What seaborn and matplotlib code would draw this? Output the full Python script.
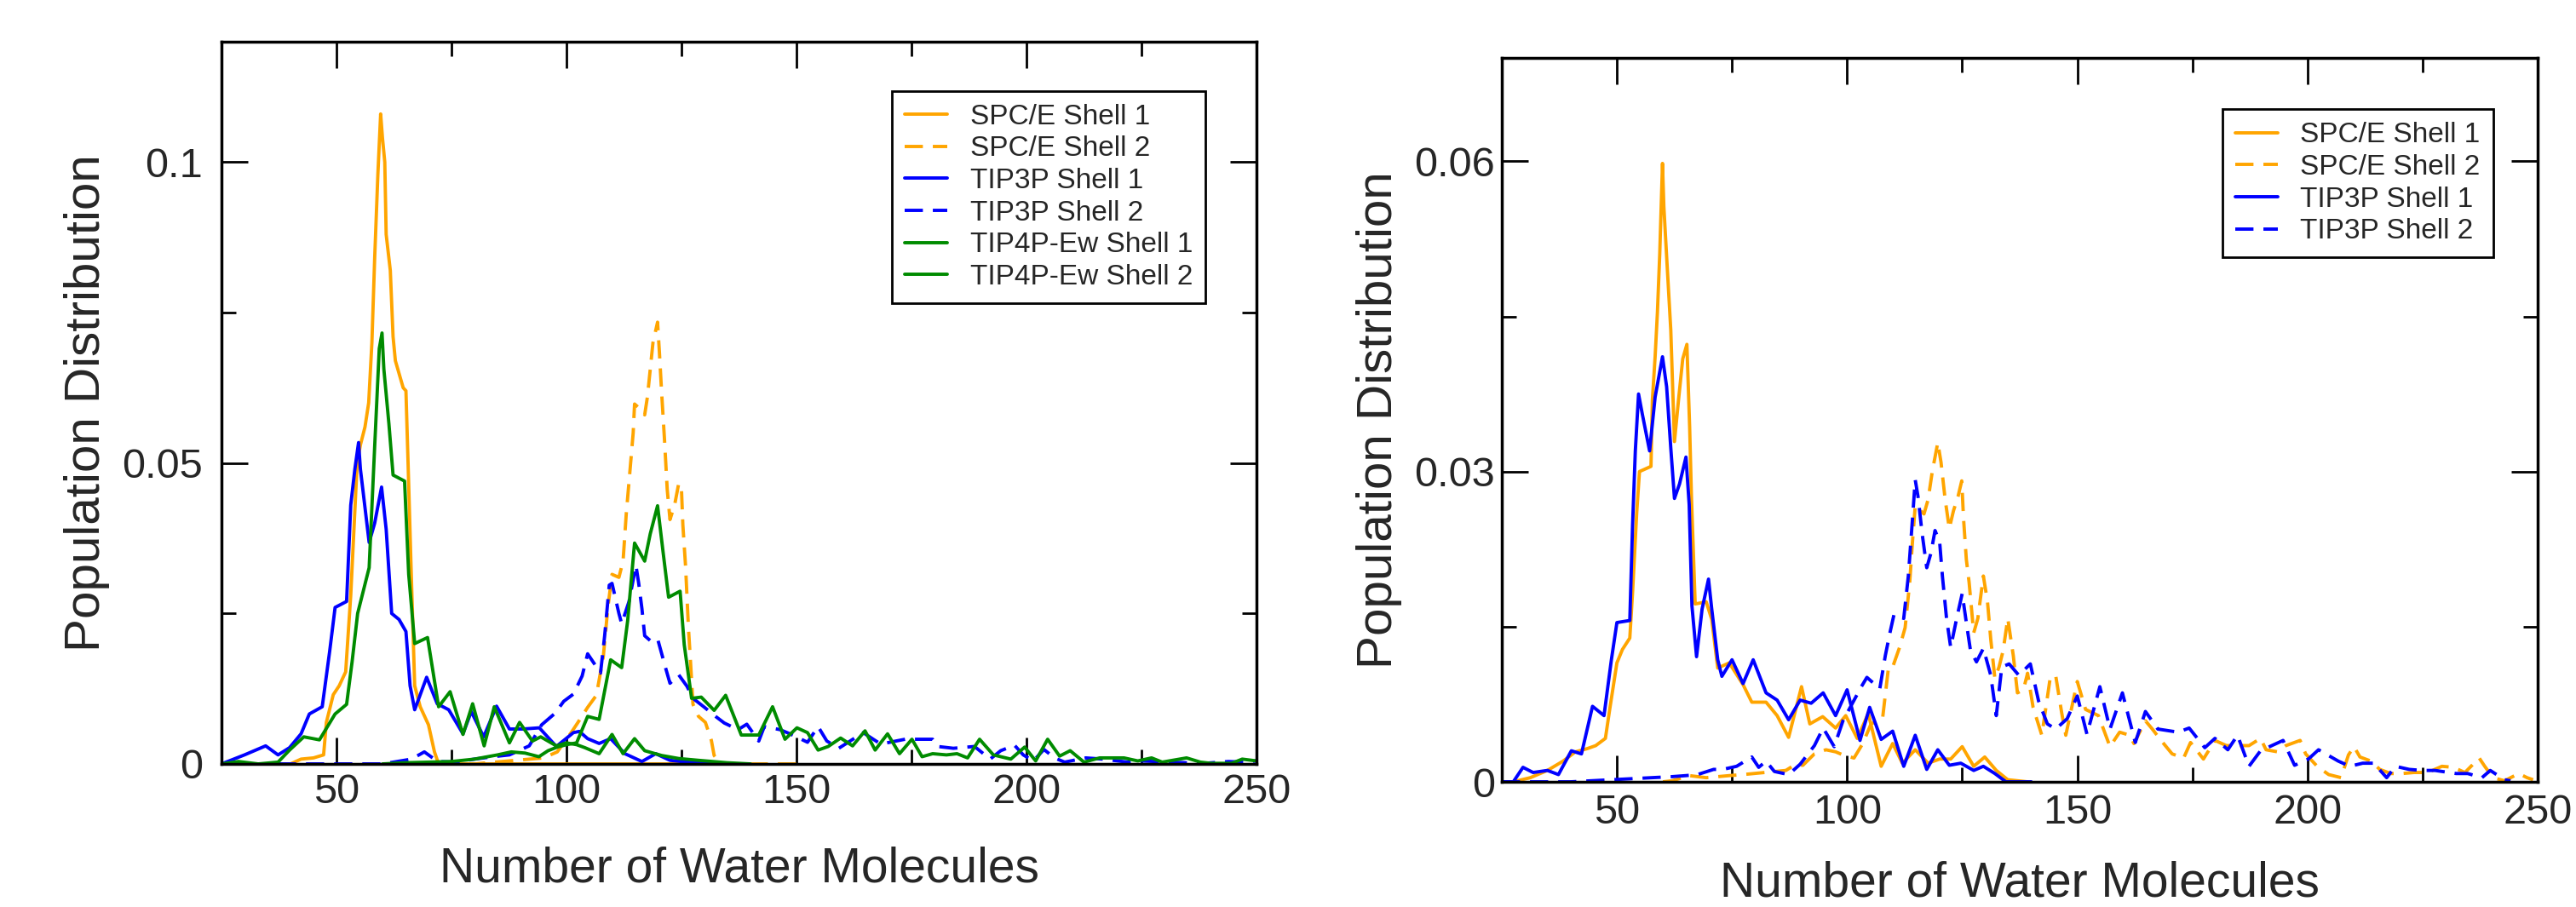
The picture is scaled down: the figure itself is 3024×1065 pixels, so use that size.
import matplotlib
matplotlib.use("Agg")
import matplotlib.pyplot as plt
from matplotlib.ticker import MultipleLocator, FuncFormatter
import seaborn as sns

# ---------------- left panel: three water models ----------------
spce1_L_x = [25, 40, 42.3, 45, 47.2, 47.8, 49.3, 50.6, 52, 53.1,
             53.8, 54.5, 55.2, 56.2, 57, 57.7, 58.3, 59, 59.6, 60,
             60.5, 60.8, 61.7, 62.3, 62.8, 64.5, 65.1, 65.6, 66.2, 67,
             68.2, 70, 71.3, 72.2, 140]
spce1_L_y = [0, 0, 0.0008, 0.001, 0.0015, 0.0069, 0.0115, 0.013, 0.0153, 0.028,
             0.039, 0.050, 0.053, 0.056, 0.060, 0.070, 0.084, 0.098, 0.108, 0.104,
             0.100, 0.088, 0.082, 0.071, 0.067, 0.0625, 0.062, 0.049, 0.033, 0.013,
             0.0095, 0.0065, 0.002, 0, 0]

spce2_L_x = [60, 80, 95, 98, 101.2, 102.5, 104.6, 106.5, 108, 109,
             109.9, 111.4, 112.3, 113, 113.9, 114.5, 114.8, 116, 117, 117.6,
             118.2, 118.8, 119.8, 120.2, 120.7, 121.3, 121.9, 122.5, 123.5, 124.4,
             125, 125.3, 125.9, 126.5, 126.9, 127.5, 128.7, 130.2, 131.5, 132.1,
             133.6, 150]
spce2_L_y = [0, 0, 0.001, 0.002, 0.0054, 0.0069, 0.0094, 0.0114, 0.0178, 0.026,
             0.0315, 0.031, 0.0337, 0.0416, 0.0496, 0.055, 0.0598, 0.059, 0.058, 0.061,
             0.0655, 0.070, 0.0734, 0.0684, 0.0615, 0.054, 0.0456, 0.0406, 0.043, 0.0466,
             0.0456, 0.0397, 0.0327, 0.0228, 0.0178, 0.0099, 0.0079, 0.0069, 0.0039, 0.0014,
             0, 0]

tip3p1_L_x = [25, 30, 34.6, 37.3, 39.8, 42.3, 44.1, 46.9, 48.5, 49.7,
              52.2, 53.1, 54, 54.8, 55.2, 57.1, 58.3, 59.8, 60.8, 62,
              63.6, 65.1, 66, 67, 69.6, 71.9, 74.4, 77.5, 79.3, 82,
              84.8, 87.6, 90.5, 94.1, 96.6, 97.8, 101.5, 102.8, 104.6, 107.1,
              109.6, 112.7, 116.4, 119.4, 122.5, 126.2, 135]
tip3p1_L_y = [0, 0.0015, 0.003, 0.0015, 0.0027, 0.005, 0.0083, 0.0095, 0.0186, 0.026,
              0.027, 0.043, 0.049, 0.0534, 0.049, 0.0368, 0.040, 0.046, 0.039, 0.025,
              0.024, 0.022, 0.013, 0.009, 0.0144, 0.010, 0.009, 0.005, 0.0087, 0.0045,
              0.0096, 0.0058, 0.0058, 0.006, 0.0039, 0.0029, 0.0052, 0.0054, 0.0042, 0.0034,
              0.0042, 0.0017, 0.0004, 0.0017, 0.0006, 0.0003, 0]

tip3p2_L_x = [25, 60, 66.3, 69.1, 72, 76, 80, 84, 87.6, 91.9,
              94.6, 97.5, 99.4, 101.5, 103.4, 104.6, 106.8, 107.4, 108.3, 109.3,
              109.9, 110.5, 111.4, 112, 113.6, 115.1, 115.7, 116.4, 117, 118.2,
              119.8, 120.7, 121.6, 122.5, 124.4, 126.2, 127.5, 130, 132.4, 134.3,
              137.3, 139.2, 141.8, 143, 146.4, 148.6, 152.4, 154.7, 156.6, 159.2,
              164.5, 168.3, 173.6, 179.6, 180.7, 184.1, 188.7, 192.1, 194.4, 197.4,
              199.3, 201.5, 203.8, 206.1, 208.3, 212.9, 216.6, 222, 225, 231,
              238.6, 243.9, 247.6, 250]
tip3p2_L_y = [0, 0, 0.0008, 0.002, 0.0004, 0.0003, 0.0008, 0.0012, 0.0015, 0.003,
              0.0065, 0.0084, 0.0104, 0.0116, 0.0146, 0.0183, 0.0158, 0.0151, 0.0213, 0.0297,
              0.030, 0.028, 0.025, 0.0233, 0.027, 0.033, 0.030, 0.0258, 0.0213, 0.0205,
              0.0208, 0.0183, 0.0158, 0.0134, 0.0148, 0.0129, 0.0109, 0.0094, 0.0079, 0.0068,
              0.0057, 0.0066, 0.0038, 0.0062, 0.0057, 0.005, 0.0036, 0.0062, 0.0038, 0.0026,
              0.0052, 0.0033, 0.0041, 0.0041, 0.0029, 0.0026, 0.0029, 0.0008, 0.0022, 0.0031,
              0.0015, 0.0005, 0.0024, 0.001, 0.0003, 0.001, 0.0008, 0.0003, 0.0005, 0.0003,
              0.0001, 0.0004, 0.0003, 0.0005]

tip4p1_L_x = [25, 28.7, 33, 37.3, 39.8, 42.9, 46.3, 49.7, 52.2, 53.4,
              54.6, 57.1, 58.3, 59.3, 59.9, 60.3, 61.4, 62.3, 64.8, 65.7,
              67, 69.8, 72.2, 74.7, 77.5, 79.6, 82.1, 84.3, 87.6, 89.8,
              92.6, 94.4, 97.8, 100, 102.2, 104, 107.1, 109.9, 112.3, 114.8,
              117, 120.7, 124.4, 128.7, 134.9, 140]
tip4p1_L_y = [0, 0.0004, 0, 0.0003, 0.0023, 0.0045, 0.004, 0.0083, 0.0099, 0.017,
              0.025, 0.0326, 0.0527, 0.069, 0.0716, 0.0656, 0.0565, 0.048, 0.047, 0.0315,
              0.020, 0.021, 0.0095, 0.012, 0.0049, 0.010, 0.003, 0.0095, 0.0035, 0.0069,
              0.0038, 0.0045, 0.003, 0.0035, 0.0032, 0.0027, 0.0017, 0.0049, 0.0017, 0.0042,
              0.0022, 0.0014, 0.0009, 0.0006, 0.0002, 0]

tip4p2_L_x = [60, 65, 70, 75, 80, 85, 88, 91, 94, 96,
              98, 100, 102.2, 104.6, 107.1, 109.6, 112, 113.3, 114.8, 117,
              118.2, 119.8, 121, 122.2, 124.7, 125.6, 127.2, 129.3, 132.1, 134.6,
              138, 141.8, 144.8, 147.5, 150.1, 152.4, 154.7, 156.9, 159.6, 162.2,
              164.9, 167.1, 169.8, 172.4, 175.1, 177.3, 179.6, 182.6, 184.9, 187.2,
              189.8, 192.8, 196.6, 199.6, 202, 204.6, 207.2, 209.5, 212.5, 215.9,
              221.2, 224.2, 227.2, 229.5, 234.8, 237.8, 240.1, 244.6, 246.9, 250]
tip4p2_L_y = [0, 0.0002, 0.0003, 0.0004, 0.0008, 0.0015, 0.002, 0.0018, 0.0012, 0.0022,
              0.0028, 0.0032, 0.0035, 0.0079, 0.0074, 0.0173, 0.016, 0.0238, 0.0367, 0.0337,
              0.0382, 0.0429, 0.0352, 0.0277, 0.0287, 0.0198, 0.0109, 0.0111, 0.0089, 0.0114,
              0.0048, 0.0048, 0.0095, 0.0041, 0.006, 0.0052, 0.0023, 0.0029, 0.0043, 0.003,
              0.0055, 0.0023, 0.005, 0.0017, 0.0041, 0.0012, 0.0017, 0.0015, 0.0017, 0.001,
              0.0041, 0.0015, 0.0008, 0.0028, 0.0005, 0.0041, 0.0013, 0.0022, 0.0003, 0.001,
              0.001, 0.0005, 0.001, 0.0003, 0.001, 0.0003, 0.0001, 0.0001, 0.0008, 0.0005]

# ---------------- right panel: two water models ----------------
spce1_R_x = [25, 27.5, 31.2, 34.9, 38.3, 41, 43.5, 45.4, 47.5, 48.4,
             50, 51.2, 52.8, 53.4, 54.3, 54.9, 57.4, 57.7, 58.3, 58.8,
             59.3, 59.9, 60.2, 60.9, 61.7, 62.5, 63.4, 64.3, 65.2, 65.8,
             66.2, 67, 69.4, 70.6, 71.9, 74.4, 77.4, 79.3, 82.4, 84.8,
             87.3, 90.1, 91.9, 94.7, 97.5, 99.7, 102.2, 104.6, 107.4, 109.9,
             112, 114.8, 117.6, 120.1, 122.5, 125, 127.5, 129.9, 132.4, 134.9,
             139.2]
spce1_R_y = [0, 0, 0.0004, 0.0011, 0.002, 0.0029, 0.0032, 0.0035, 0.0042, 0.0069,
             0.0115, 0.0128, 0.0139, 0.0183, 0.026, 0.030, 0.0305, 0.0369, 0.0411, 0.0454,
             0.051, 0.0598, 0.0556, 0.050, 0.0437, 0.0329, 0.037, 0.0409, 0.0423, 0.0343,
             0.0274, 0.0172, 0.0174, 0.0157, 0.011, 0.0115, 0.0094, 0.0077, 0.0077, 0.0064,
             0.0043, 0.0092, 0.0056, 0.0063, 0.0052, 0.0064, 0.0042, 0.0066, 0.0015, 0.0037,
             0.0018, 0.0031, 0.0018, 0.0022, 0.0022, 0.0034, 0.0015, 0.0024, 0.0011, 0.0002,
             0]

spce2_R_x = [60, 62, 65.7, 69.4, 74.4, 77.4, 86.7, 88.5, 90.4, 92.9,
             95.4, 97.5, 99.1, 101.5, 103.4, 105.2, 107.7, 109, 109.9, 111.4,
             112.6, 113.6, 114.2, 114.8, 116.7, 117.6, 118.5, 119.1, 119.7, 120.4,
             121.3, 122.2, 123.1, 124.1, 124.9, 125.3, 125.9, 126.5, 127.5, 128.4,
             129.6, 130.5, 131.2, 132.1, 133, 133.9, 134.9, 136.1, 137, 138.3,
             139.2, 140.4, 142.3, 144.1, 145.3, 146.6, 147.5, 150, 151.8, 154.6,
             157.1, 159.2, 161.4, 162.3, 164.8, 166.3, 168.2, 170.6, 173.1, 174.6,
             177.4, 179.9, 182.4, 185.1, 187.3, 189.8, 191, 193.5, 195.3, 198.4,
             199.6, 202.1, 204.6, 207.3, 208.9, 210.1, 211.4, 213.8, 215.7, 218.1,
             220.6, 223.1, 226.1, 229.2, 231.7, 234.2, 237.3, 238.5, 240.3, 242.8,
             245.9, 247.7, 249]
spce2_R_y = [0, 0.0001, 0.0006, 0.0004, 0.0006, 0.0007, 0.0011, 0.0016, 0.0016, 0.0027,
             0.0031, 0.0029, 0.0026, 0.0023, 0.0037, 0.0056, 0.0061, 0.0111, 0.0111, 0.013,
             0.0149, 0.0193, 0.0232, 0.0267, 0.0259, 0.0273, 0.030, 0.0314, 0.0328, 0.0309,
             0.0273, 0.0245, 0.0262, 0.0276, 0.0291, 0.0254, 0.0215, 0.0193, 0.0144, 0.0158,
             0.0199, 0.0174, 0.0138, 0.01, 0.0111, 0.0127, 0.0158, 0.0122, 0.0086, 0.0089,
             0.0105, 0.0072, 0.0045, 0.01, 0.0103, 0.0067, 0.0045, 0.0097, 0.007, 0.0064,
             0.0034, 0.0048, 0.0045, 0.0037, 0.0059, 0.0051, 0.004, 0.0027, 0.0023, 0.0038,
             0.0022, 0.004, 0.0035, 0.0035, 0.0035, 0.0042, 0.0031, 0.0029, 0.0035, 0.004,
             0.0027, 0.0015, 0.0007, 0.0004, 0.0026, 0.0034, 0.0024, 0.002, 0.0012, 0.0008,
             0.0008, 0.0009, 0.0009, 0.0015, 0.0014, 0.0009, 0.0023, 0.0015, 0.0004, 0.0001,
             0.0008, 0.0004, 0.0002]

tip3p1_R_x = [25, 27.5, 29.6, 31.8, 34.9, 37.3, 40.1, 42.3, 44.7, 47.2,
              48.8, 50, 52.8, 53.4, 54, 54.7, 55.5, 57.1, 58.3, 59.9,
              60.8, 61.7, 62.5, 63.6, 65, 65.7, 66.3, 67.3, 68.5, 69.9,
              70.6, 71.9, 72.8, 75, 77.4, 79.6, 82.4, 84.8, 87.3, 89.8,
              92.2, 94.8, 97.5, 100, 102.8, 104.9, 107.4, 109.9, 112.3, 114.8,
              117.3, 119.7, 122.2, 124.7, 127.5, 129.6, 132.1, 134.5, 140]
tip3p1_R_y = [0, 0, 0.0014, 0.0009, 0.0011, 0.0007, 0.003, 0.0027, 0.0073, 0.0064,
              0.0118, 0.0154, 0.0156, 0.0248, 0.032, 0.0375, 0.0356, 0.032, 0.0372, 0.0411,
              0.0382, 0.0323, 0.0274, 0.0288, 0.0314, 0.0268, 0.017, 0.0121, 0.0167, 0.0196,
              0.0167, 0.0118, 0.0102, 0.0118, 0.0095, 0.0118, 0.0086, 0.0079, 0.006, 0.0079,
              0.0076, 0.0086, 0.0064, 0.0089, 0.004, 0.0072, 0.0041, 0.0049, 0.0015, 0.0045,
              0.0012, 0.0031, 0.0016, 0.0018, 0.0011, 0.0015, 0.0008, 0, 0]

tip3p2_R_x = [25, 40, 62, 65, 67.5, 71, 73, 76, 79.3, 80.8,
              82.4, 84.2, 87.3, 89.8, 92.9, 94.8, 97.2, 99.1, 103.1, 104.3,
              107.1, 108.3, 109.3, 110.2, 112.3, 113.3, 114.2, 114.8, 115.4, 116.3,
              117.3, 118.2, 119.1, 120.1, 120.7, 121.6, 122.5, 123.8, 125, 125.9,
              126.8, 128.1, 129.6, 131.2, 132.4, 133.6, 135.2, 137.3, 139.8, 141.6,
              143.5, 145.3, 147.8, 150, 152.1, 154.9, 157.1, 159.8, 162.6, 164.8,
              167.5, 171.9, 174.3, 177.7, 179.9, 182.7, 184.8, 187.3, 189.8, 194.7,
              197.2, 200.2, 202.4, 206.7, 209.2, 212, 214.4, 217.2, 219.1, 222.1,
              224.9, 227.7, 232.3, 234.8, 237.9, 239.7, 242.8, 244.1]
tip3p2_R_y = [0, 0, 0.0005, 0.0006, 0.0007, 0.0012, 0.0012, 0.0015, 0.0024, 0.0014,
              0.002, 0.001, 0.0007, 0.0017, 0.0035, 0.0052, 0.0034, 0.0059, 0.0092, 0.0101,
              0.009, 0.0122, 0.0144, 0.0162, 0.0158, 0.0199, 0.0254, 0.0292, 0.0276, 0.024,
              0.0207, 0.0221, 0.0243, 0.0232, 0.0199, 0.0158, 0.013, 0.0158, 0.0182, 0.0154,
              0.0127, 0.0116, 0.0129, 0.0103, 0.0064, 0.0111, 0.0114, 0.0103, 0.0114, 0.0078,
              0.0056, 0.0051, 0.0061, 0.0083, 0.0046, 0.0092, 0.0051, 0.0086, 0.0038, 0.0068,
              0.0051, 0.0048, 0.0052, 0.0033, 0.0042, 0.0031, 0.0045, 0.0015, 0.003, 0.004,
              0.0016, 0.0022, 0.0031, 0.002, 0.0015, 0.0018, 0.0018, 0.0004, 0.0015, 0.0012,
              0.0011, 0.0011, 0.0008, 0.0008, 0.0004, 0.0011, 0.0002, 0.0001]

labels = ["SPC/E Shell 1", "SPC/E Shell 2", "TIP3P Shell 1", "TIP3P Shell 2",
          "TIP4P-Ew Shell 1", "TIP4P-Ew Shell 2"]

ORANGE = "#FFA500"
BLUE = "#0000FF"
GREEN = "#008B00"
SOLID = "-"
DASHED = (0, (5.5, 3))

sns.set_style("ticks")
plt.rcParams["font.family"] = ["Liberation Sans", "DejaVu Sans"]


def draw_panel(ax, series, ylim, ymajor, legend_anchor, ytick_pad, xtick_pad, xlabelpad):
    for label, xs, ys, color, ls in series:
        sns.lineplot(x=xs, y=ys, ax=ax, color=color, linestyle=ls, lw=2.8,
                     label=label, estimator=None, sort=False)
    ax.set_xlim(25, 250)
    ax.set_ylim(*ylim)
    ax.xaxis.set_major_locator(MultipleLocator(50))
    ax.xaxis.set_minor_locator(MultipleLocator(25))
    ax.yaxis.set_major_locator(MultipleLocator(ymajor))
    ax.yaxis.set_minor_locator(MultipleLocator(ymajor / 2))
    ax.yaxis.set_major_formatter(FuncFormatter(lambda v, p: "%g" % round(v, 4)))
    ax.tick_params(which="both", direction="in", top=True, right=True, width=2,
                   color="black", labelsize=35)
    ax.tick_params(which="major", length=22)
    ax.tick_params(which="minor", length=12)
    ax.tick_params(axis="y", pad=ytick_pad)
    ax.tick_params(axis="x", pad=xtick_pad)
    for sp in ax.spines.values():
        sp.set_linewidth(2.5)
        sp.set_color("black")
    ax.set_xlabel("Number of Water Molecules", fontsize=41, labelpad=xlabelpad)
    ax.set_ylabel("Population Distribution", fontsize=42, labelpad=10)
    leg = ax.legend(loc="upper right", bbox_to_anchor=legend_anchor, fontsize=24,
                    frameon=True, fancybox=False, framealpha=1, edgecolor="black",
                    handlelength=1.5, handletextpad=0.8, labelspacing=0.2,
                    borderpad=0.45, borderaxespad=0)
    leg.get_frame().set_linewidth(2)


fig = plt.figure(figsize=(30.24, 10.65), dpi=100)
ax_left = fig.add_axes([260 / 3024, 168 / 1065, 1215 / 3024, 848 / 1065])
ax_right = fig.add_axes([1763 / 3024, 147 / 1065, 1216 / 3024, 850 / 1065])

left_series = [
    (labels[0], spce1_L_x, spce1_L_y, ORANGE, SOLID),
    (labels[1], spce2_L_x, spce2_L_y, ORANGE, DASHED),
    (labels[2], tip3p1_L_x, tip3p1_L_y, BLUE, SOLID),
    (labels[3], tip3p2_L_x, tip3p2_L_y, BLUE, DASHED),
    (labels[4], tip4p1_L_x, tip4p1_L_y, GREEN, SOLID),
    (labels[5], tip4p2_L_x, tip4p2_L_y, GREEN, SOLID),
]
right_series = [
    (labels[0], spce1_R_x, spce1_R_y, ORANGE, SOLID),
    (labels[1], spce2_R_x, spce2_R_y, ORANGE, DASHED),
    (labels[2], tip3p1_R_x, tip3p1_R_y, BLUE, SOLID),
    (labels[3], tip3p2_R_x, tip3p2_R_y, BLUE, DASHED),
]

draw_panel(ax_left, left_series, (0, 0.12), 0.05, (0.951, 0.932), 16, 8, 29)
draw_panel(ax_right, right_series, (0, 0.07), 0.03, (0.957, 0.929), 6, 10, 24)

fig.savefig("out.png", dpi=100, facecolor="white")
